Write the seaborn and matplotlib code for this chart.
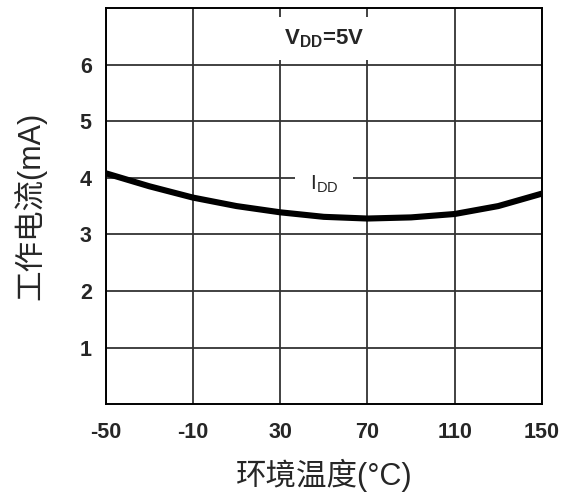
import matplotlib
matplotlib.use("Agg")
import matplotlib.pyplot as plt
import seaborn as sns
import pandas as pd

# Supply current vs. ambient temperature at VDD = 5 V
temperature = [-50, -30, -10, 10, 30, 50, 70, 90, 110, 130, 150]
idd_ma = [4.08, 3.85, 3.65, 3.50, 3.39, 3.31, 3.28, 3.30, 3.36, 3.50, 3.72]
x_ticks = [-50, -10, 30, 70, 110, 150]
y_ticks = [1, 2, 3, 4, 5, 6]

sns.set_theme(style="white")
plt.rcParams["font.family"] = ["Liberation Sans", "Noto Sans CJK SC", "DejaVu Sans"]
plt.rcParams["mathtext.fontset"] = "custom"
plt.rcParams["mathtext.rm"] = "Liberation Sans"
plt.rcParams["mathtext.bf"] = "Liberation Sans:bold"

df = pd.DataFrame({"temp": temperature, "idd": idd_ma})

fig = plt.figure(figsize=(5.68, 4.93), dpi=100)
ax = fig.add_axes([0.186, 0.18, 0.768, 0.804])

sns.lineplot(data=df, x="temp", y="idd", ax=ax, color="black", linewidth=4.4,
             zorder=5, solid_capstyle="butt")

ax.set_xlim(-50, 150)
ax.set_ylim(0, 7)
ax.set_xticks(x_ticks)
ax.set_yticks(y_ticks)
ax.set_xticklabels([str(v) for v in x_ticks], fontsize=15.5, fontweight="bold")
ax.set_yticklabels([str(v) for v in y_ticks], fontsize=15.5, fontweight="bold")
ax.tick_params(axis="x", length=0, pad=13)
ax.tick_params(axis="y", length=0, pad=10)

ax.grid(True, color="#333333", linewidth=1.3)
ax.set_axisbelow(True)
for s in ax.spines.values():
    s.set_color("black")
    s.set_linewidth(1.4)

ax.set_xlabel("环境温度(°C)", fontsize=22, fontweight="light", labelpad=11)
ax.set_ylabel("工作电流(mA)", fontsize=22, fontweight="light", labelpad=24)

ax.text(50, 6.46, r"V$_{\mathbf{DD}}$=5V", ha="center", va="center", fontsize=16,
        fontweight="bold", zorder=6,
        bbox=dict(facecolor="white", edgecolor="none", pad=7.5))
ax.text(50, 3.88, r"I$_{\mathrm{DD}}$", ha="center", va="center", fontsize=15,
        zorder=6, bbox=dict(facecolor="white", edgecolor="none", boxstyle="square,pad=0.7"))

fig.savefig("out.png", dpi=100)
